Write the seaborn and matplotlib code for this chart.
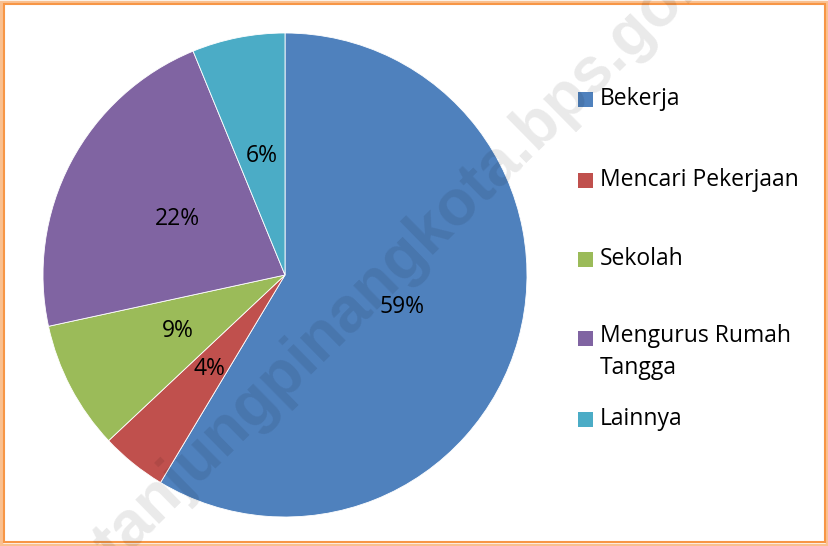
import matplotlib
matplotlib.use("Agg")
import matplotlib.pyplot as plt
from matplotlib.patches import Rectangle
import seaborn as sns

# data
categories = ["Bekerja", "Mencari Pekerjaan", "Sekolah", "Mengurus Rumah\nTangga", "Lainnya"]
shares = [58.6, 4.4, 8.6, 22.2, 6.2]
colors = ["#4F81BD", "#C0504D", "#9BBB59", "#8064A2", "#4BACC6"]

sns.set_theme(style="white")
plt.rcParams['font.family'] = ['Open Sans', 'DejaVu Sans']

W, H = 829, 546
fig = plt.figure(figsize=(W / 100, H / 100), dpi=100)
fig.patch.set_facecolor("white")

# pie axes: centre (285, 275) px, radius 242 px
cx, cy, r = 285, 275, 242
ax = fig.add_axes([(cx - r) / W, (H - cy - r) / H, 2 * r / W, 2 * r / H])
wedges, _, autotexts = ax.pie(
    shares, colors=colors, startangle=90, counterclock=False,
    autopct="%.0f%%", pctdistance=0.5,
    wedgeprops=dict(edgecolor="white", linewidth=0.6),
    textprops=dict(fontsize=16.5, color="black"),
)
ax.set_aspect("auto")
ax.set_xlim(-1, 1)
ax.set_ylim(-1, 1)
ax.axis("off")

# legend drawn by hand so the square aligns with the first line
leg_y = [99, 180, 259, 338, 419]
for name, col, y in zip(categories, colors, leg_y):
    fig.patches.append(Rectangle((578 / W, (H - y - 7.5) / H), 15 / W, 15 / H,
                                 transform=fig.transFigure, facecolor=col,
                                 edgecolor="none"))
    if "\n" in name:
        fig.text(600 / W, (H - y + 14) / H, name, fontsize=16.5, va="top", ha="left",
                 color="black", linespacing=1.45)
    else:
        fig.text(600 / W, (H - y) / H, name, fontsize=16.5, va="center", ha="left",
                 color="black")

# faint watermark
fig.text(116 / W, (H - 566) / H, "tanjungpinangkota.bps.go.id", fontsize=46,
         fontweight="bold", color="black", alpha=0.085, rotation=44.5,
         rotation_mode="anchor", ha="left", va="baseline",
         family=["Liberation Sans", "DejaVu Sans"])

# orange frame
fig.patches.append(Rectangle((1.5 / W, 1.5 / H), (W - 3) / W, (H - 3) / H,
                             transform=fig.transFigure, fill=False,
                             edgecolor="#FAC090", linewidth=2.5))
fig.patches.append(Rectangle((4 / W, 4 / H), (W - 8) / W, (H - 8) / H,
                             transform=fig.transFigure, fill=False,
                             edgecolor="#F79646", linewidth=1.5))

fig.savefig("out.png", dpi=100)
